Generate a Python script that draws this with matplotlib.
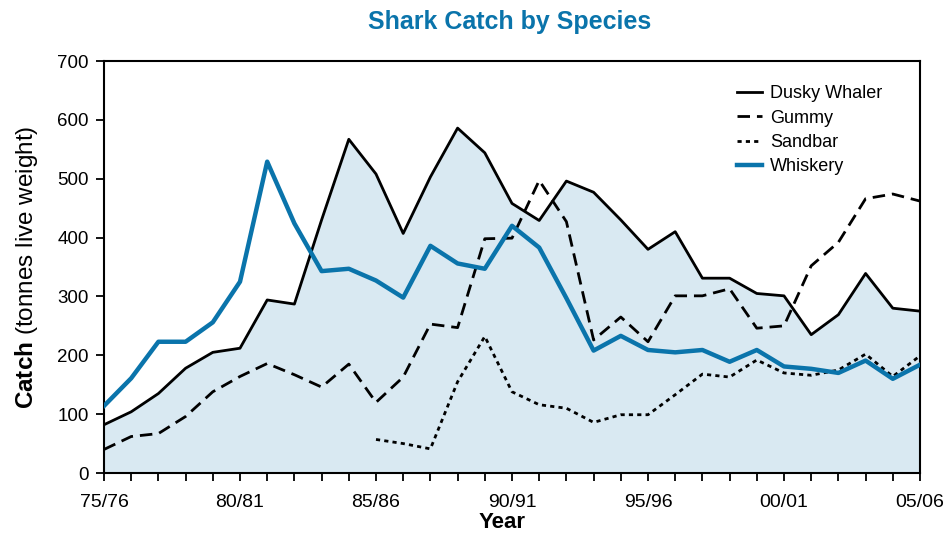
import matplotlib
matplotlib.use("Agg")
import matplotlib.pyplot as plt
import numpy as np

plt.rcParams['font.family'] = ['Liberation Sans', 'DejaVu Sans']
plt.rcParams['mathtext.fontset'] = 'custom'
plt.rcParams['mathtext.rm'] = 'Liberation Sans'
plt.rcParams['mathtext.bf'] = 'Liberation Sans:bold'

seasons = ["75/76", "76/77", "77/78", "78/79", "79/80", "80/81", "81/82", "82/83", "83/84",
           "84/85", "85/86", "86/87", "87/88", "88/89", "89/90", "90/91", "91/92", "92/93",
           "93/94", "94/95", "95/96", "96/97", "97/98", "98/99", "99/00", "00/01", "01/02",
           "02/03", "03/04", "04/05", "05/06"]
tick_labels = ["75/76", "80/81", "85/86", "90/91", "95/96", "00/01", "05/06"]

dusky = [82, 104, 135, 178, 205, 212, 294, 287, 430, 567, 508, 407, 503, 586, 544, 458,
         429, 496, 477, 430, 380, 410, 331, 331, 305, 301, 235, 269, 339, 280, 275]
gummy = [40, 62, 67, 96, 138, 164, 186, 167, 146, 185, 120, 163, 253, 247, 398, 399,
         497, 427, 226, 265, 223, 301, 301, 313, 246, 250, 352, 392, 466, 474, 462]
sandbar = [None] * 10 + [57, 50, 41, 155, 232, 138, 116, 110, 86, 99, 99, 133, 168, 163,
                         192, 170, 166, 175, 202, 164, 199]
whiskery = [114, 161, 223, 223, 256, 325, 529, 424, 343, 347, 327, 298, 386, 356, 347, 420,
            383, 297, 208, 233, 209, 205, 209, 189, 209, 181, 177, 170, 191, 160, 184]

blue = '#0a74ab'
fill = '#d9e9f2'

x = np.arange(len(seasons))
sand = np.array([np.nan if v is None else v for v in sandbar], dtype=float)

fig = plt.figure(figsize=(9.46, 5.36), dpi=100)
ax = fig.add_axes([104 / 946, 63 / 536, 816 / 946, 412 / 536])

ax.fill_between(x, 0, dusky, color=fill, lw=0, zorder=1)
ax.plot(x, dusky, color='black', lw=2.0, label='Dusky Whaler', zorder=3)
ax.plot(x, gummy, color='black', lw=2.0, ls=(0, (4.5, 2.5)), label='Gummy', zorder=3)
ax.plot(x, sand, color='black', lw=2.0, ls=(0, (1.5, 1.5)), label='Sandbar', zorder=3)
ax.plot(x, whiskery, color=blue, lw=3.2, label='Whiskery', zorder=4)

ax.set_xlim(0, len(seasons) - 1)
ax.set_ylim(0, 700)
ax.set_yticks(np.arange(0, 701, 100))
ax.set_xticks([seasons.index(t) for t in tick_labels])
ax.set_xticklabels(tick_labels)
ax.set_xticks(x, minor=True)
ax.tick_params(axis='both', which='both', direction='out', length=6, width=1.3, pad=5)
ax.tick_params(axis='x', which='major', pad=9, labelsize=14)
ax.tick_params(axis='y', labelsize=13.5)
for s in ax.spines.values():
    s.set_linewidth(1.5)

ax.set_xlabel('Year', fontsize=16, fontweight='bold', va='baseline')
ax.xaxis.set_label_coords((502 - 104) / 816, -(528 - 473) / 412)
ax.set_ylabel(r'$\mathbf{Catch}$ (tonnes live weight)', fontsize=17.5, va='center')
ax.yaxis.set_label_coords(-(104 - 27) / 816, 0.5)
fig.text(509.5 / 946, 1 - 22 / 536, 'Shark Catch by Species', color=blue,
         fontsize=18, fontweight='bold', ha='center', va='center')

leg = ax.legend(loc='upper right', frameon=False, fontsize=13, handlelength=1.4,
                bbox_to_anchor=(0.974, 0.98), labelspacing=0.4, handletextpad=0.45)

fig.savefig('out.png', dpi=100)
